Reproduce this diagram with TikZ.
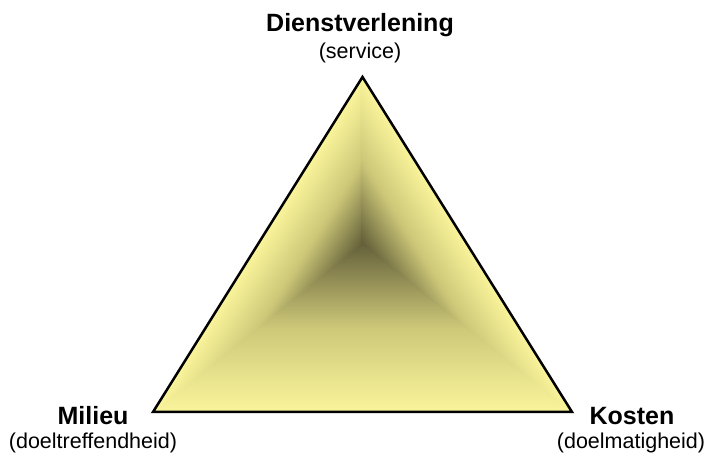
\documentclass[tikz,border=0pt]{standalone}
\usepackage{fontspec}
\setmainfont{Liberation Sans}
\definecolor{geel}{RGB}{250,245,155}
\definecolor{olijf}{RGB}{205,200,120}
\definecolor{donker}{RGB}{100,96,58}

\begin{document}
\begin{tikzpicture}[
		x=1pt, y=1pt,
		kop/.style={font=\fontsize{25}{30}\selectfont\bfseries, inner sep=0pt, anchor=base}, % hoofdlabel
		sub/.style={font=\fontsize{21.5}{26}\selectfont, inner sep=0pt, anchor=base},        % tussen haakjes
		rand/.style={draw, line width=2.5pt, line join=miter}
		]
	\useasboundingbox (0,0) rectangle (707,454);
	\coordinate (apex) at (362.5,377);
	\coordinate (links) at (153,42);
	\coordinate (rechts) at (572,42);
	\coordinate (midden) at (362.5,211);
	\begin{scope}
		\clip (links) -- (apex) -- (rechts) -- cycle;
		% onderste vlak
		\shade[top color=donker, bottom color=geel, middle color=olijf] (links) -- (rechts) -- (midden) -- cycle;
		% linker vlak (iets breder, tegen naden)
		\begin{scope}[transform canvas={shift={(links)}, rotate=57.98}]
			\shade[top color=geel, bottom color=donker, middle color=olijf] (-4,0) -- (399,0) -- (257,-88) -- (251.5,-88) -- cycle;
		\end{scope}
		% rechter vlak
		\begin{scope}[transform canvas={shift={(rechts)}, rotate=122.02}]
			\shade[top color=donker, bottom color=geel, middle color=olijf] (-4,0) -- (399,0) -- (257,88) -- (251.5,88) -- cycle;
		\end{scope}
	\end{scope}
	\path[rand] (links) -- (apex) -- (rechts) -- cycle;
	
	\node[kop] (dienst) at (360,422) {Dienstverlening};
	\node[sub] (dienstsub) at (360,395) {(service)};
	\node[kop] (milieu) at (93,29) {Milieu};
	\node[sub] (milieusub) at (93,5) {(doeltreffendheid)};
	\node[kop] (kosten) at (632,29) {Kosten};
	\node[sub] (kostensub) at (631,5) {(doelmatigheid)};
\end{tikzpicture}
\end{document}
